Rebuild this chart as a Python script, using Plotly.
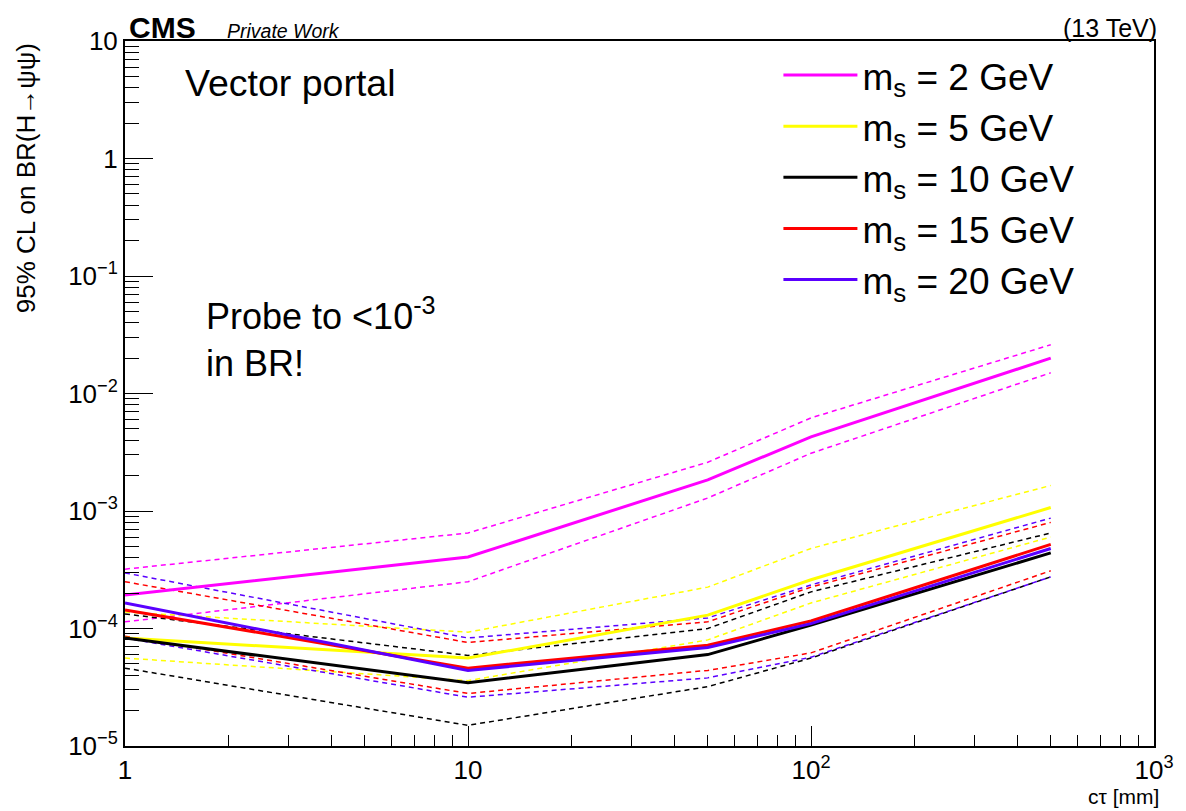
import plotly.graph_objects as go

# ---- data ----
ctau = [1, 10, 50, 100, 500]

labels = ["m<sub>s</sub> = 2 GeV", "m<sub>s</sub> = 5 GeV", "m<sub>s</sub> = 10 GeV",
          "m<sub>s</sub> = 15 GeV", "m<sub>s</sub> = 20 GeV"]
colors = ["#ff00ff", "#ffff00", "#000000", "#ff0000", "#5a00ff"]

br_2 = [1.93e-4, 4.06e-4, 1.84e-3, 4.27e-3, 2.0e-2]
br_2_up = [3.2e-4, 6.5e-4, 2.6e-3, 6.2e-3, 2.6e-2]
br_2_dn = [1.14e-4, 2.5e-4, 1.29e-3, 3.1e-3, 1.5e-2]

br_5 = [8.3e-5, 5.6e-5, 1.3e-4, 2.6e-4, 1.07e-3]
br_5_up = [1.38e-4, 9.3e-5, 2.25e-4, 4.8e-4, 1.65e-3]
br_5_dn = [5.6e-5, 3.6e-5, 8.0e-5, 1.65e-4, 6.0e-4]

br_10 = [8.3e-5, 3.45e-5, 6.0e-5, 1.07e-4, 4.4e-4]
br_10_up = [1.33e-4, 5.9e-5, 1.0e-4, 2.05e-4, 6.5e-4]
br_10_dn = [4.6e-5, 1.5e-5, 3.2e-5, 5.6e-5, 2.75e-4]

br_15 = [1.44e-4, 4.6e-5, 7.2e-5, 1.16e-4, 5.2e-4]
br_15_up = [2.5e-4, 7.6e-5, 1.14e-4, 2.25e-4, 8.0e-4]
br_15_dn = [8.6e-5, 2.8e-5, 4.4e-5, 6.2e-5, 3.1e-4]

br_20 = [1.65e-4, 4.4e-5, 6.9e-5, 1.1e-4, 4.8e-4]
br_20_up = [2.97e-4, 8.3e-5, 1.23e-4, 2.35e-4, 8.7e-4]
br_20_dn = [8.3e-5, 2.6e-5, 3.8e-5, 5.7e-5, 2.75e-4]

central = [br_2, br_5, br_10, br_15, br_20]
upper = [br_2_up, br_5_up, br_10_up, br_15_up, br_20_up]
lower = [br_2_dn, br_5_dn, br_10_dn, br_15_dn, br_20_dn]

x_tickvals = [1, 10, 100, 1000]
x_ticktext = ["1", "10", "10<sup>2</sup>", "10<sup>3</sup>"]
y_tickvals = [1e-5, 1e-4, 1e-3, 1e-2, 1e-1, 1, 10]
y_ticktext = ["10<sup>\u22125</sup>", "10<sup>\u22124</sup>", "10<sup>\u22123</sup>",
              "10<sup>\u22122</sup>", "10<sup>\u22121</sup>", "1", "10"]

# ---- figure ----
fig = go.Figure()
for i in range(len(labels)):
    grp = "g%d" % i
    for band in (upper[i], lower[i]):
        fig.add_trace(go.Scatter(x=ctau, y=band, mode="lines", legendgroup=grp,
                                 showlegend=False, hoverinfo="skip",
                                 line=dict(color=colors[i], width=1.5, dash="5px,4px")))
for i in range(len(labels)):
    grp = "g%d" % i
    fig.add_trace(go.Scatter(x=ctau, y=central[i], mode="lines", name=labels[i],
                             legendgroup=grp,
                             line=dict(color=colors[i], width=3)))

minor_x = [m * 10 ** k for k in range(0, 3) for m in range(2, 10)]
minor_y = [m * 10.0 ** k for k in range(-5, 1) for m in range(2, 10)]

FONT = "Liberation Sans, Arial, sans-serif"

fig.update_layout(
    width=1186, height=811,
    margin=dict(l=125, r=26, t=41, b=65),
    paper_bgcolor="white", plot_bgcolor="white",
    font=dict(family=FONT, color="black"),
    showlegend=True,
    legend=dict(x=0.635, y=0.995, xanchor="left", yanchor="top",
                font=dict(size=37, family=FONT), bgcolor="rgba(0,0,0,0)",
                tracegroupgap=0, traceorder="grouped", itemwidth=74),
    xaxis=dict(type="log", range=[0, 3], showgrid=False, zeroline=False,
               showline=True, linecolor="black", linewidth=2, mirror=True,
               ticks="inside", ticklen=20, tickwidth=1, tickcolor="black",
               tickmode="array", tickvals=x_tickvals, ticktext=x_ticktext,
               tickfont=dict(size=26, family=FONT),
               minor=dict(ticks="inside", ticklen=11, tickwidth=1, tickcolor="black",
                          tickmode="array", tickvals=minor_x)),
    yaxis=dict(type="log", range=[-5, 1], showgrid=False, zeroline=False,
               showline=True, linecolor="black", linewidth=2, mirror=True,
               ticks="inside", ticklen=28, tickwidth=1, tickcolor="black",
               tickmode="array", tickvals=y_tickvals, ticktext=y_ticktext,
               tickfont=dict(size=26, family=FONT),
               minor=dict(ticks="inside", ticklen=14, tickwidth=1, tickcolor="black",
                          tickmode="array", tickvals=minor_y)),
)

ann = [
    dict(text="<b>CMS</b>", x=0.0, y=1.0, xref="paper", yref="paper",
         xanchor="left", yanchor="bottom", showarrow=False, xshift=2, yshift=-5,
         font=dict(size=30, family=FONT)),
    dict(text="<i>Private Work</i>", x=0.0, y=1.0, xref="paper", yref="paper",
         xanchor="left", yanchor="bottom", showarrow=False, xshift=100, yshift=-3,
         font=dict(size=19.5, family=FONT)),
    dict(text="(13 TeV)", x=1.0, y=1.0, xref="paper", yref="paper",
         xanchor="right", yanchor="bottom", showarrow=False, yshift=-3, xshift=5,
         font=dict(size=25, family=FONT)),
    dict(text="Vector portal", x=0.056, y=0.94, xref="paper", yref="paper",
         xanchor="left", yanchor="middle", showarrow=False,
         font=dict(size=37.5, family=FONT)),
    dict(text="Probe to &lt;10<sup>-3</sup><br>in BR!", x=0.077, y=0.58,
         xref="paper", yref="paper", xanchor="left", yanchor="middle",
         align="left", showarrow=False, font=dict(size=36, family=FONT)),
    dict(text="95% CL on BR(H\u2192\u03c8\u03c8)", x=-0.096, y=1.0, xref="paper",
         yref="paper", xanchor="center", yanchor="top", textangle=-90,
         showarrow=False, font=dict(size=26, family=FONT)),
    dict(text="c\u03c4 [mm]", x=1.0, y=0.0, xref="paper", yref="paper",
         xanchor="right", yanchor="top", showarrow=False, yshift=-37, xshift=7,
         font=dict(size=21, family=FONT)),
]
fig.update_layout(annotations=ann)

fig.write_html("out.html")
